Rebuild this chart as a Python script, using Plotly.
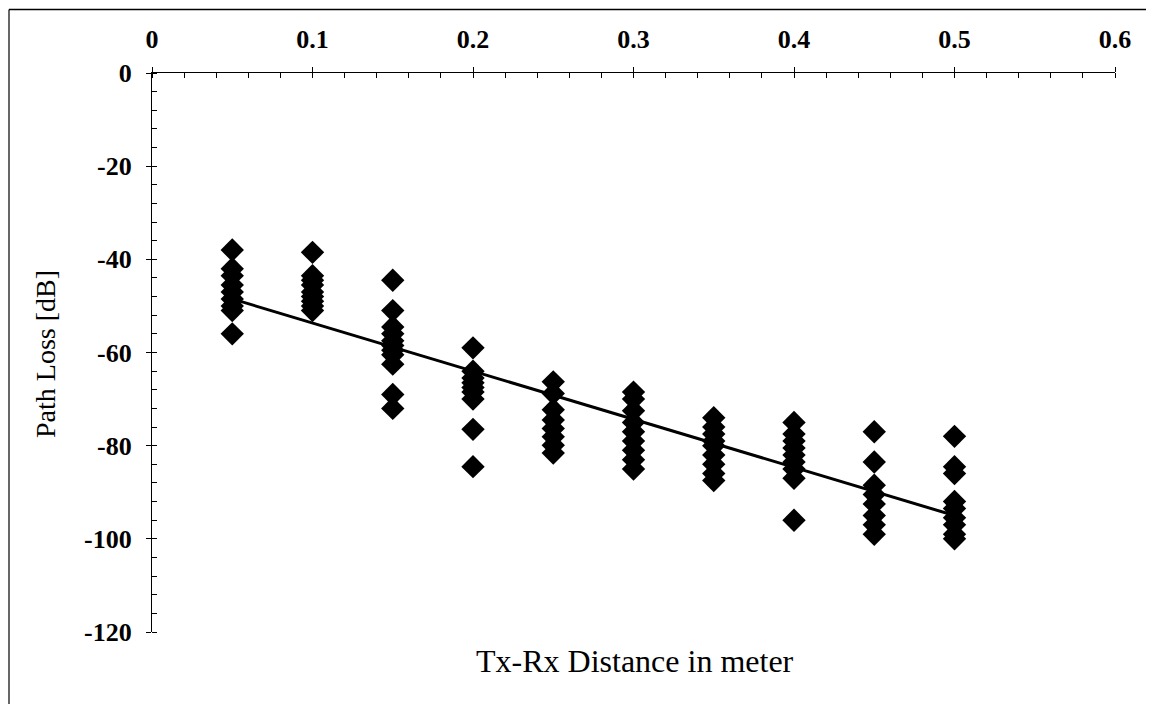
import plotly.graph_objects as go

# Measured path loss [dB] at each Tx-Rx distance [m]
d005 = [-38, -42, -43.5, -45.5, -47, -48.5, -50, -51, -56]
d010 = [-38.5, -43.5, -44.5, -45.5, -47, -48, -49, -50, -51]
d015 = [-44.5, -51, -54.5, -56, -57.5, -58.5, -59.5, -60.5, -62.5, -69, -72]
d020 = [-59, -64, -65.5, -66.5, -67.5, -68.5, -70, -76.5, -84.5]
d025 = [-66.3, -68.8, -72.3, -74.5, -76.3, -78.1, -79.9, -81.6]
d030 = [-68.5, -70, -72.5, -75, -77, -79, -81, -83, -85]
d035 = [-74, -76, -77.5, -79, -80, -82, -84, -86, -87.5]
d040 = [-75, -77.5, -79, -80.5, -82, -83.5, -85, -87, -96]
d045 = [-77, -83.5, -88.5, -90.5, -92.5, -95, -97, -99]
d050 = [-78, -84.5, -86, -92, -93.5, -95.5, -97, -99, -100]

distances = [0.05, 0.10, 0.15, 0.20, 0.25, 0.30, 0.35, 0.40, 0.45, 0.50]
groups = [d005, d010, d015, d020, d025, d030, d035, d040, d045, d050]

# Linear fit line values
fit_x = [0.05, 0.50]
fit_y = [-48.5, -95.0]

x_tickvals = [0, 0.1, 0.2, 0.3, 0.4, 0.5, 0.6]
x_ticktext = ["0", "0.1", "0.2", "0.3", "0.4", "0.5", "0.6"]
y_tickvals = [0, -20, -40, -60, -80, -100, -120]
y_ticktext = ["0", "-20", "-40", "-60", "-80", "-100", "-120"]

xs, ys = [], []
for dval, grp in zip(distances, groups):
    xs += [dval] * len(grp)
    ys += grp

FONT = "Liberation Serif"

# figure sits at (8, 8) in the page because of the body margin
W, H = 1146, 696
L, T = 144, 65
PW, PH = 963, 559
R = W - L - PW
B = H - T - PH


def px(xp):
    return (xp - 8 - L) / PW


def py(yp):
    return (T + PH - (yp - 8)) / PH


fig = go.Figure()
fig.add_trace(go.Scatter(x=xs, y=ys, mode="markers",
                         marker=dict(symbol="diamond", size=18, color="black",
                                     line=dict(width=0)),
                         showlegend=False, hoverinfo="skip"))
fig.add_trace(go.Scatter(x=fit_x, y=fit_y, mode="lines",
                         line=dict(color="black", width=3),
                         showlegend=False, hoverinfo="skip"))
# dummy trace for overlay axes (inside half of crossing ticks)
fig.add_trace(go.Scatter(x=[None], y=[None], xaxis="x2", yaxis="y2",
                         showlegend=False, hoverinfo="skip"))

axis_common = dict(showgrid=False, zeroline=False, showline=True,
                   linecolor="black", linewidth=1.3, tickcolor="black",
                   tickwidth=1.3)

fig.update_layout(
    width=W, height=H,
    margin=dict(l=L, r=R, t=T, b=B),
    paper_bgcolor="white", plot_bgcolor="white",
    xaxis=dict(range=[0, 0.6], side="top", tickmode="array",
               tickvals=x_tickvals, ticktext=x_ticktext,
               ticks="outside", ticklen=5, ticklabelstandoff=8,
               minor=dict(dtick=0.02, tick0=0, ticks="inside", ticklen=5,
                          tickcolor="black", tickwidth=1.2),
               tickfont=dict(family=FONT, size=26, color="black", weight="bold"),
               mirror=False, **axis_common),
    yaxis=dict(range=[-120, 0], tickmode="array",
               tickvals=y_tickvals, ticktext=y_ticktext,
               ticks="outside", ticklen=5, ticklabelstandoff=9,
               minor=dict(dtick=4, tick0=0, ticks="inside", ticklen=5,
                          tickcolor="black", tickwidth=1.2),
               tickfont=dict(family=FONT, size=26, color="black", weight="bold"),
               mirror=False, **axis_common),
    xaxis2=dict(range=[0, 0.6], overlaying="x", side="top", anchor="y",
                tickmode="array", tickvals=x_tickvals, showticklabels=False,
                ticks="inside", ticklen=5, tickcolor="black", tickwidth=1.3,
                showgrid=False, zeroline=False, showline=False),
    yaxis2=dict(range=[-120, 0], overlaying="y", side="left", anchor="x",
                tickmode="array", tickvals=y_tickvals, showticklabels=False,
                ticks="inside", ticklen=5, tickcolor="black", tickwidth=1.3,
                showgrid=False, zeroline=False, showline=False),
    annotations=[
        dict(text="Tx-Rx Distance in meter", xref="paper", yref="paper",
             x=px(635), y=py(661), xanchor="center",
             yanchor="middle", showarrow=False,
             font=dict(family=FONT, size=32, color="black")),
        dict(text="Path Loss [dB]", xref="paper", yref="paper",
             x=px(45), y=py(354), xanchor="center",
             yanchor="middle", textangle=-90, showarrow=False,
             font=dict(family=FONT, size=28, color="black")),
    ],
    shapes=[
        dict(type="line", xref="paper", yref="paper",
             x0=px(9), x1=px(1154),
             y0=py(9.5), y1=py(9.5),
             line=dict(color="black", width=1.5)),
        dict(type="line", xref="paper", yref="paper",
             x0=px(9), x1=px(9),
             y0=py(9.5), y1=py(704),
             line=dict(color="black", width=1.2)),
    ],
)

fig.write_html("out.html")
